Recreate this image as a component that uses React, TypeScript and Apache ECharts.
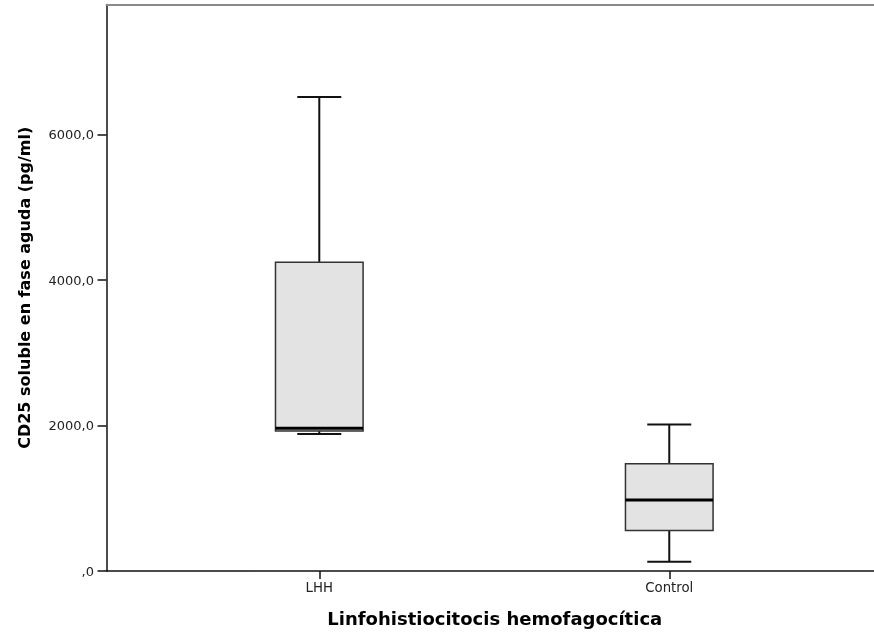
import React, { useEffect, useRef } from "react";
import * as echarts from "echarts";

const categories = ["LHH", "Control"];
const whiskerLow = [1885, 128];
const q1 = [1925, 558];
const median = [1962, 975];
const q3 = [4244, 1474];
const whiskerHigh = [6519, 2014];
const yTicks = [0, 2000, 4000, 6000];
const xTicks = [1, 2];

export default function App() {
  const ref = useRef<HTMLDivElement>(null);
  useEffect(() => {
    const chart = echarts.init(ref.current!, null, { renderer: "svg" });
    const data = categories.map((c, i) => [i + 1, whiskerLow[i], q1[i], median[i], q3[i], whiskerHigh[i]]);
    const boxW = 87.6;
    const capW = 44;
    const font = "DejaVu Sans";
    chart.setOption({
      animation: false,
      grid: { left: 106.5, top: 4.5, right: 0, bottom: 60.7, containLabel: false },
      xAxis: [
        {
          type: "value",
          position: "bottom",
          min: 0.392,
          max: 2.585,
          splitLine: { show: false },
          axisLine: { show: true, onZero: false, lineStyle: { color: "#111", width: 1.5 } },
          axisTick: { show: true, length: 8, customValues: xTicks, lineStyle: { color: "#111", width: 1.5 } },
          axisLabel: {
            show: true,
            customValues: xTicks,
            margin: 10,
            fontFamily: font,
            fontSize: 13.3,
            color: "#222",
            formatter: (v: number) => categories[Math.round(v) - 1] ?? "",
          },
          name: "Linfohistiocitocis hemofagocítica",
          nameLocation: "middle",
          nameGap: 38,
          nameTextStyle: { fontFamily: font, fontWeight: "bold", fontSize: 18, color: "#000", padding: [0, 0, 0, 9] },
        },
        {
          type: "value",
          position: "top",
          min: 0.392,
          max: 2.585,
          splitLine: { show: false },
          axisLine: { show: true, onZero: false, lineStyle: { color: "#8a8a8a", width: 2 } },
          axisTick: { show: false },
          axisLabel: { show: false },
        },
      ],
      yAxis: {
        type: "value",
        min: 0,
        max: 7790,
        interval: 2000,
        splitLine: { show: false },
        axisLine: { show: true, onZero: false, lineStyle: { color: "#111", width: 1.5 } },
        axisTick: { show: true, length: 9, customValues: yTicks, lineStyle: { color: "#111", width: 1.5 } },
        axisLabel: {
          customValues: yTicks,
          margin: 12.5,
          fontFamily: font,
          fontSize: 13,
          color: "#222",
          formatter: (v: number) => (v === 0 ? ",0" : v.toFixed(1).replace(".", ",")),
        },
        name: "CD25 soluble en fase aguda (pg/ml)",
        nameLocation: "middle",
        nameGap: 74,
        nameTextStyle: { fontFamily: font, fontWeight: "bold", fontSize: 16, color: "#000" },
      },
      series: [
        {
          type: "custom",
          xAxisIndex: 0,
          yAxisIndex: 0,
          data,
          encode: { x: 0, y: [1, 2, 3, 4, 5] },
          renderItem: (params: any, api: any) => {
            const x = api.value(0);
            const lo = api.coord([x, api.value(1)]);
            const b1 = api.coord([x, api.value(2)]);
            const md = api.coord([x, api.value(3)]);
            const b3 = api.coord([x, api.value(4)]);
            const hi = api.coord([x, api.value(5)]);
            const cx = lo[0];
            const wStyle = { stroke: "#111", lineWidth: 2 };
            return {
              type: "group",
              children: [
                { type: "line", shape: { x1: cx, y1: hi[1], x2: cx, y2: b3[1] }, style: wStyle },
                { type: "line", shape: { x1: cx, y1: b1[1], x2: cx, y2: lo[1] }, style: wStyle },
                { type: "line", shape: { x1: cx - capW / 2, y1: hi[1], x2: cx + capW / 2, y2: hi[1] }, style: wStyle },
                { type: "line", shape: { x1: cx - capW / 2, y1: lo[1], x2: cx + capW / 2, y2: lo[1] }, style: wStyle },
                {
                  type: "rect",
                  shape: { x: cx - boxW / 2, y: b3[1], width: boxW, height: b1[1] - b3[1] },
                  style: { fill: "#e3e3e3", stroke: "#333", lineWidth: 1.5 },
                },
                {
                  type: "line",
                  shape: { x1: cx - boxW / 2, y1: md[1], x2: cx + boxW / 2, y2: md[1] },
                  style: { stroke: "#000", lineWidth: 3 },
                },
              ],
            };
          },
        },
      ],
    });
    return () => chart.dispose();
  }, []);
  return <div ref={ref} style={{ position: "fixed", left: 0, top: 0, width: 874, height: 632 }} />;
}
